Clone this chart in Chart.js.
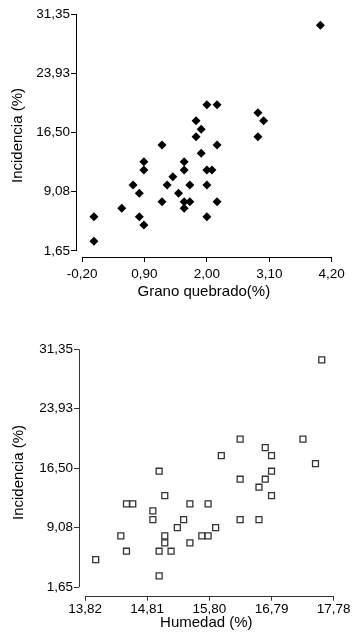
<!DOCTYPE html>
<html>
<head>
<meta charset="utf-8">
<script src="https://cdn.jsdelivr.net/npm/chart.js@4.4.1/dist/chart.umd.min.js"></script>
<style>
  body { margin: 0; background: #fff; }
  canvas { display: block; }
</style>
</head>
<body>
<canvas id="grainChart" width="362" height="320"></canvas>
<canvas id="moistureChart" width="362" height="323"></canvas>
<script>
// tick values shown on the axes
const incidenceTicks = [1.65, 9.08, 16.50, 23.93, 31.35];
const grainTicks = [-0.20, 0.90, 2.00, 3.10, 4.20];
const moistureTicks = [13.82, 14.81, 15.80, 16.79, 17.78];

// top chart: broken grain (%) vs incidence (%)
const grainX = [4.0, 2.0, 2.18, 2.9, 3.0, 1.81, 1.9, 1.81, 2.9, 1.21, 2.18, 1.9,
    0.89, 1.6, 0.89, 1.6, 2.0, 2.09, 1.4, 0.7, 1.3, 1.7, 2.0, 0.81, 1.5,
    1.21, 1.6, 1.7, 2.18, 0.5, 1.6, 0.01, 0.81, 2.0, 0.89, 0.01];
const grainY = [29.93, 19.98, 19.98, 18.98, 17.98, 17.98, 16.9, 15.97, 15.97, 14.93, 14.93, 13.89,
    12.84, 12.84, 11.8, 11.8, 11.8, 11.8, 10.96, 9.92, 9.92, 9.92, 9.92, 8.88, 8.88,
    7.83, 7.83, 7.83, 7.83, 7.0, 7.0, 5.95, 5.95, 5.95, 4.9, 2.87];

// bottom chart: moisture (%) vs incidence (%)
const moistureX = [17.59, 16.29, 17.29, 16.69, 15.99, 16.79, 17.49, 15.0, 16.79, 16.29, 16.69, 16.59,
    15.09, 16.79, 14.48, 14.58, 15.49, 15.78, 14.9, 14.9, 15.39, 16.29, 16.59, 15.29, 15.9,
    14.39, 15.09, 15.68, 15.78, 15.09, 15.49, 14.48, 15.0, 15.19, 13.99, 15.0];
const moistureY = [30.03, 20.13, 20.13, 19.08, 18.08, 18.08, 17.08, 16.13, 16.13, 15.13, 15.13, 14.13,
    13.09, 13.09, 12.05, 12.05, 12.05, 12.05, 11.18, 10.09, 10.09, 10.09, 10.09, 9.09, 9.09,
    8.05, 8.05, 8.05, 8.05, 7.18, 7.18, 6.14, 6.14, 6.14, 5.1, 3.06];

const FONT = "'Liberation Sans', Arial, sans-serif";

function fmt(v) {
    return v.toFixed(2).replace('.', ',');
}

// axis lines only span from first to last tick, detached at the corner
function axisLinesPlugin(xTicks, yTicks, color) {
    return {
        id: 'axisLines',
        afterDraw(chart) {
            const ctx = chart.ctx;
            const area = chart.chartArea;
            const x = chart.scales.x;
            const y = chart.scales.y;
            const left = Math.round(area.left) + 0.5;
            const bottom = Math.round(area.bottom) + 0.5;
            ctx.save();
            ctx.strokeStyle = color;
            ctx.lineWidth = 1;
            ctx.beginPath();
            ctx.moveTo(left, y.getPixelForValue(yTicks[0]));
            ctx.lineTo(left, y.getPixelForValue(yTicks[yTicks.length - 1]));
            ctx.moveTo(x.getPixelForValue(xTicks[0]), bottom);
            ctx.lineTo(x.getPixelForValue(xTicks[xTicks.length - 1]), bottom);
            ctx.stroke();
            ctx.restore();
        }
    };
}

function makeChart(id, cfg) {
    const points = cfg.xs.map((v, i) => ({ x: v, y: cfg.ys[i] }));
    return new Chart(document.getElementById(id), {
        type: 'scatter',
        data: {
            datasets: [{
                data: points,
                pointStyle: cfg.pointStyle,
                pointRadius: cfg.pointRadius,
                backgroundColor: cfg.fill,
                borderColor: cfg.stroke,
                borderWidth: cfg.strokeWidth
            }]
        },
        options: {
            responsive: false,
            animation: false,
            devicePixelRatio: 1,
            events: [],
            layout: { padding: cfg.padding },
            plugins: { legend: { display: false }, tooltip: { enabled: false } },
            scales: {
                x: {
                    type: 'linear',
                    min: cfg.xMin,
                    max: cfg.xTicks[cfg.xTicks.length - 1],
                    afterBuildTicks: s => { s.ticks = cfg.xTicks.map(v => ({ value: v })); },
                    afterFit: s => { s.height = cfg.xAxisHeight; },
                    border: { display: false },
                    grid: { drawOnChartArea: false, drawTicks: true, tickLength: 5, color: cfg.axisColor },
                    ticks: {
                        callback: v => fmt(v),
                        color: '#000',
                        padding: cfg.xTickPad,
                        maxRotation: 0,
                        autoSkip: false,
                        font: { family: FONT, size: 13.5 }
                    },
                    title: {
                        display: true,
                        text: cfg.xTitle,
                        color: '#000',
                        padding: { top: 0, bottom: cfg.xTitlePad },
                        font: { family: FONT, size: 15 }
                    }
                },
                y: {
                    type: 'linear',
                    min: cfg.yMin,
                    max: incidenceTicks[incidenceTicks.length - 1],
                    afterBuildTicks: s => { s.ticks = incidenceTicks.map(v => ({ value: v })); },
                    afterFit: s => { s.width = cfg.yAxisWidth; },
                    border: { display: false },
                    grid: { drawOnChartArea: false, drawTicks: true, tickLength: 5, color: cfg.axisColor },
                    ticks: {
                        callback: v => fmt(v),
                        color: '#000',
                        padding: 1,
                        autoSkip: false,
                        font: { family: FONT, size: 13.5 }
                    },
                    title: {
                        display: true,
                        text: 'Incidencia (%)',
                        color: '#000',
                        padding: { top: cfg.yTitlePad, bottom: 0 },
                        font: { family: FONT, size: 15 }
                    }
                }
            }
        },
        plugins: [axisLinesPlugin(cfg.xTicks, incidenceTicks, cfg.axisColor)]
    });
}

makeChart('grainChart', {
    xs: grainX, ys: grainY,
    xTicks: grainTicks, xMin: -0.306, yMin: 0.898,
    xTitle: 'Grano quebrado(%)',
    pointStyle: 'rectRot', pointRadius: 4.5,
    fill: '#000', stroke: '#000', strokeWidth: 0,
    axisColor: '#000',
    padding: { top: 14, right: 30.3, left: 0, bottom: 0 },
    xAxisHeight: 63, yAxisWidth: 76,
    xTickPad: 4.5, xTitlePad: 19.3, yTitlePad: 8.5
});

makeChart('moistureChart', {
    xs: moistureX, ys: moistureY,
    xTicks: moistureTicks, xMin: 13.724, yMin: 0.59,
    xTitle: 'Humedad (%)',
    pointStyle: 'rect', pointRadius: 4.2,
    fill: '#fff', stroke: '#333', strokeWidth: 1.3,
    axisColor: '#333',
    padding: { top: 29.3, right: 28.3, left: 0, bottom: 0 },
    xAxisHeight: 47.3, yAxisWidth: 79,
    xTickPad: 0, xTitlePad: 11, yTitlePad: 9.8
});
</script>
</body>
</html>
